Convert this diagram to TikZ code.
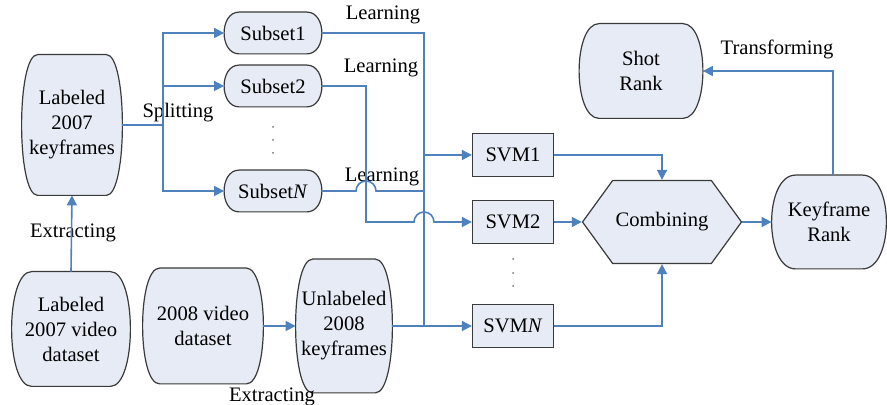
\documentclass[tikz,border=0pt]{standalone}
\usepackage{fontspec}
\setmainfont{Liberation Serif}
\usetikzlibrary{arrows.meta, shapes.symbols, calc, backgrounds}
\definecolor{cline}{HTML}{4F81BD}
\definecolor{cfill}{HTML}{E6EBF5}
\definecolor{cedge}{HTML}{3A3A3A}
\tikzset{
  every picture/.style={font=\fontsize{10.3}{12.5}\selectfont},
  blob/.style={align=center, inner sep=1pt},
  outline/.style={draw=cedge, fill=cfill, line width=0.6pt},
  svmbox/.style={draw=cedge, fill=cfill, line width=0.6pt, minimum width=40.5pt, minimum height=21.5pt, inner sep=1pt},
  hexa/.style={signal, signal to=east and west, signal pointer angle=108, draw=cedge, fill=cfill, line width=0.6pt, minimum width=79.5pt, minimum height=41.5pt, inner sep=1pt},
  link/.style={draw=cline, line width=0.8pt},
  arrow/.style={link, -{Triangle[length=5pt, width=5pt]}},
  lbl/.style={inner sep=1pt},
}

\begin{document}
\begin{tikzpicture}[x=0.5pt, y=0.5pt]
  \useasboundingbox (0,0) rectangle (887,405);
  % left column
  \node[blob, minimum width=50pt, minimum height=70pt] (lk) at (72,280) {Labeled\\2007\\keyframes};
  \node[blob, minimum width=59pt, minimum height=57pt] (lv) at (71,76) {Labeled\\2007 video\\dataset};
  \node[blob, minimum width=60pt, minimum height=57.5pt] (vd) at (203,79) {2008 video\\dataset};
  \node[blob, minimum width=48pt, minimum height=66.5pt] (uk) at (344,79) {Unlabeled\\2008\\keyframes};
  % subsets
  \node[blob, minimum width=48.5pt, minimum height=20.5pt] (s1) at (273,372) {Subset1};
  \node[blob, minimum width=48.5pt, minimum height=20.5pt] (s2) at (273,319) {Subset2};
  \node[blob, minimum width=48.5pt, minimum height=20.5pt] (sn) at (273,214) {Subset\textit{N}};
  % classifiers
  \node[svmbox] (svm1) at (513,250) {SVM1};
  \node[svmbox] (svm2) at (513,183) {SVM2};
  \node[svmbox] (svmn) at (513,79) {SVM\textit{N}};
  \node[hexa] (comb) at (662,183) {Combining};
  \node[blob, minimum width=57pt, minimum height=46.5pt] (kr) at (829,183) {Keyframe\\Rank};
  \node[blob, minimum width=61.5pt, minimum height=47pt] (sr) at (641,334) {Shot\\Rank};

  % rounded outlines behind the text
  \begin{scope}[on background layer]
    \foreach \n/\b in {lk/16, lv/20, vd/17, uk/17, s1/15, s2/15, sn/15, sr/20, kr/24}
      \path[outline] ($(\n.north west)+(\b,0)$) -- ($(\n.north east)-(\b,0)$)
        .. controls ($(\n.north east)+(\b/3,0)$) and ($(\n.south east)+(\b/3,0)$) .. ($(\n.south east)-(\b,0)$)
        -- ($(\n.south west)+(\b,0)$)
        .. controls ($(\n.south west)-(\b/3,0)$) and ($(\n.north west)-(\b/3,0)$) .. cycle;
  \end{scope}

  % labels
  \node[lbl] (split) at (178,292) {Splitting};
  \node[lbl] (learn1) at (383,390) {Learning};
  \node[lbl] (learn2) at (381,337) {Learning};
  \node[lbl] (learnn) at (382,228) {Learning};
  \node[lbl] (ex1) at (73,172) {Extracting};
  \node[lbl] (ex2) at (272,8) {Extracting};
  \node[lbl] (trans) at (777,356) {Transforming};

  % splitting
  \coordinate (sp) at (163,280);
  \draw[link] (lk.east) -- (sp);
  \draw[arrow] (sp) |- (s1.west);
  \draw[arrow] (sp) |- (s2.west);
  \draw[arrow] (sp) |- (sn.west);
  \foreach \y in {278,265,252} \fill[cedge!70] (273,\y) circle (0.5pt);

  % learning
  \coordinate (bus) at (424,250);
  \coordinate (busb) at (424,79);
  \coordinate (turn2) at (366,183);
  \coordinate (hopa) at (424,183);
  \coordinate (hopb) at (366,214);
  \draw[arrow] (s1.east) -| (bus) -- (svm1.west);
  \draw[arrow] (s2.east) -| (turn2) -- ($(hopa)-(5pt,0)$) arc[start angle=180, end angle=0, radius=5pt] -- (svm2.west);
  \draw[link] (sn.east) -- ($(hopb)-(5pt,0)$) arc[start angle=180, end angle=0, radius=5pt] -- (bus |- sn.east);
  \draw[arrow] (uk.east) -- (busb) -- (svmn.west);
  \draw[link] (busb) -- (bus);
  \foreach \y in {146,132,119} \fill[cedge!70] (513,\y) circle (0.5pt);

  % combining and ranking
  \draw[arrow] (svm1.east) -| (comb.north);
  \draw[arrow] (svmn.east) -| (comb.south);
  \draw[arrow] (svm2.east) -- (comb.west);
  \draw[arrow] (comb.east) -- (kr.west);
  \draw[arrow] ($(kr.north)+(4,0)$) |- (sr.east);

  % extracting
  \draw[arrow] (lv.north) -- (lk.south);
  \draw[arrow] (vd.east) -- (uk.west);
\end{tikzpicture}
\end{document}
